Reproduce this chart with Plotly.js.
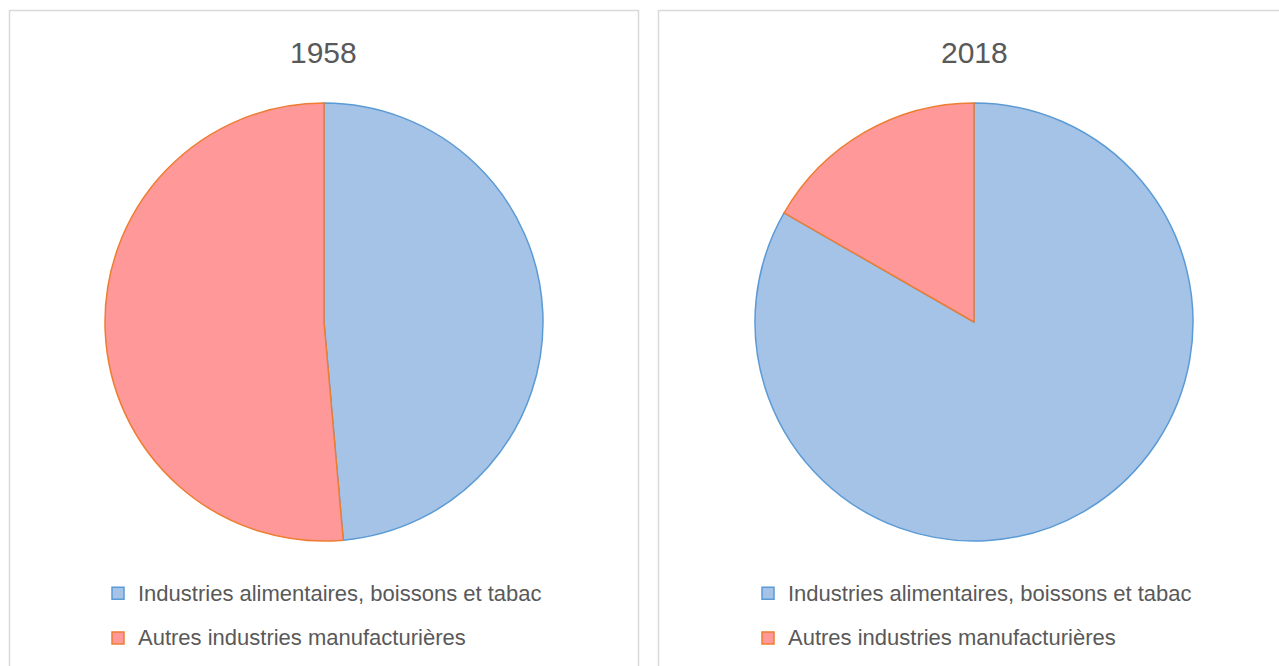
<!DOCTYPE html>
<html>
<head>
<meta charset="utf-8">
<script src="https://cdn.plot.ly/plotly-3.0.1.min.js"></script>
<style>html,body{margin:0;padding:0;background:#fff;}#chart{width:1279px;height:666px;}</style>
</head>
<body>
<div id="chart"></div>
<script>
const categories = ["Industries alimentaires, boissons et tabac", "Autres industries manufacturières"];
const years = ["1958", "2018"];
const values1958 = [48.6, 51.4];
const values2018 = [83.3, 16.7];

const W = 1279, H = 666;
const fillColors = ["#A5C2E7", "#FF9999"];
const lineColors = ["#5B9BD5", "#ED7D31"];
const font = "Liberation Sans, Arial, sans-serif";

// Each panel has its own legend; a zero-width suffix keeps the second pie's
// legend entries distinct so Plotly does not merge them into the first legend.
function labelsFor(i) {
  const suffix = i === 0 ? "" : "\u200B";
  return categories.map(c => '<span style="font-size:22px;baseline-shift:5px">' + c + '</span>' + suffix);
}

function pie(vals, i, cx, legendId) {
  const cy = 322, r = 219;
  return {
    type: "pie",
    labels: labelsFor(i),
    values: vals,
    sort: false,
    direction: "clockwise",
    rotation: 0,
    textinfo: "none",
    hole: 0,
    marker: { colors: fillColors, line: { color: lineColors, width: 1.5 } },
    domain: { x: [(cx - r) / W, (cx + r) / W], y: [1 - (cy + r) / H, 1 - (cy - r) / H] },
    legend: legendId,
    showlegend: true
  };
}

const data = [pie(values1958, 0, 324, "legend"), pie(values2018, 1, 974, "legend2")];

const legendBase = {
  orientation: "v",
  xanchor: "left",
  yanchor: "top",
  font: { family: font, size: 32, color: "#595959" },
  bgcolor: "rgba(0,0,0,0)",
  itemclick: false,
  itemdoubleclick: false
};

const layout = {
  width: W, height: H,
  margin: { l: 0, r: 0, t: 0, b: 0 },
  paper_bgcolor: "#ffffff",
  font: { family: font },
  legend: Object.assign({}, legendBase, { x: 98 / W, y: 1 - 566 / H }),
  legend2: Object.assign({}, legendBase, { x: 748 / W, y: 1 - 566 / H }),
  annotations: years.map((yr, i) => ({
    text: yr, xref: "paper", yref: "paper",
    x: (i === 0 ? 324 : 974) / W, y: 1 - 52 / H,
    xanchor: "center", yanchor: "middle", showarrow: false,
    font: { family: font, size: 30, color: "#595959" }
  })),
  shapes: [
    { type: "rect", xref: "paper", yref: "paper", x0: 9.5 / W, x1: 638.5 / W, y0: -0.05, y1: 1 - 10.5 / H,
      line: { color: "#D9D9D9", width: 1.5 }, fillcolor: "rgba(0,0,0,0)", layer: "below" },
    { type: "rect", xref: "paper", yref: "paper", x0: 658.5 / W, x1: 1.05, y0: -0.05, y1: 1 - 10.5 / H,
      line: { color: "#D9D9D9", width: 1.5 }, fillcolor: "rgba(0,0,0,0)", layer: "below" }
  ]
};

Plotly.newPlot("chart", data, layout, { displayModeBar: false, staticPlot: true });
</script>
</body>
</html>
